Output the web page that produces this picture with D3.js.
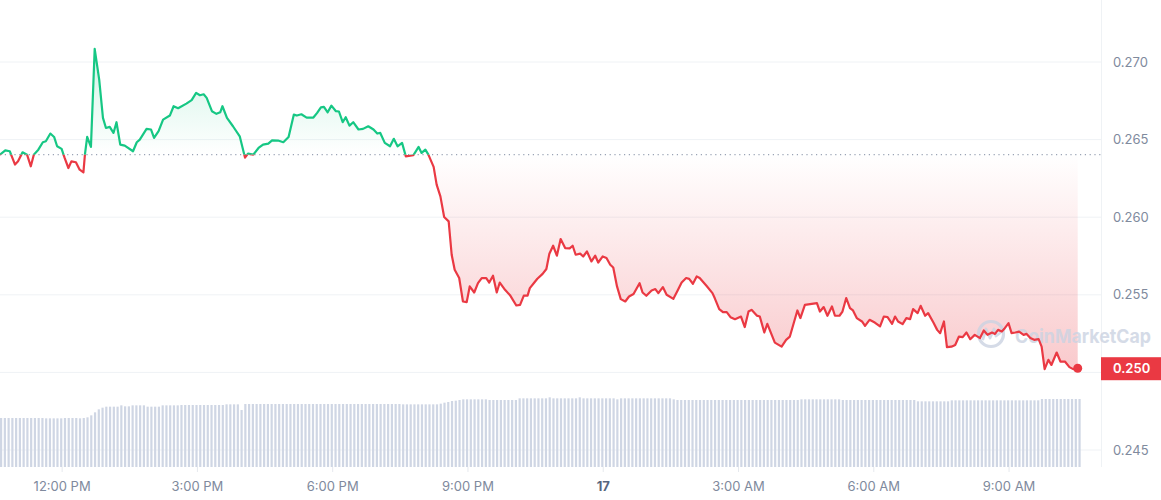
<!DOCTYPE html>
<html>
<head>
<meta charset="utf-8">
<script src="https://cdn.jsdelivr.net/npm/d3@7"></script>
<style>
  html, body { margin: 0; padding: 0; background: #fff; }
  svg { display: block; font-family: Inter, "Noto Sans", sans-serif; }
</style>
</head>
<body>
<svg id="chart" width="1161" height="500"></svg>
<script>
// ---------------- data ----------------
const startTime = new Date(2023, 9, 16, 10, 38);
const endTime = new Date(2023, 9, 17, 11, 3);
const priceMinutes = [
  0,7,13,20,24,30,36,41,45,51,
  57,61,67,72,76,82,86,91,95,101,
  106,111,113,116,121,126,132,137,141,146,
  151,155,160,166,177,182,186,195,201,205,
  211,217,226,231,237,248,255,261,266,271,
  275,282,288,293,296,302,310,319,326,330,
  337,344,350,357,362,370,377,384,391,395,
  401,408,417,422,427,431,436,441,447,451,
  456,460,465,470,477,483,490,497,502,506,
  512,519,524,529,535,540,550,557,561,566,
  570,577,581,586,591,597,601,605,611,616,
  621,625,631,636,641,647,651,656,661,665,
  672,679,687,692,697,702,705,711,715,722,
  727,731,736,741,746,752,758,762,766,772,
  776,781,787,792,796,802,807,812,816,821,
  826,832,837,843,851,855,860,867,872,876,
  882,887,896,901,907,913,917,922,927,931,
  940,948,951,957,962,967,972,978,986,991,
  996,1000,1007,1011,1017,1021,1031,1040,1046,1051,
  1061,1065,1071,1087,1091,1096,1101,1107,1111,1117,
  1121,1126,1131,1135,1140,1147,1151,1157,1164,1171,
  1176,1181,1187,1191,1195,1201,1206,1211,1215,1221,
  1225,1231,1235,1242,1247,1251,1256,1260,1266,1271,
  1276,1281,1286,1291,1297,1304,1309,1314,1320,1324,
  1328,1333,1337,1342,1346,1351,1356,1362,1366,1371,
  1376,1382,1386,1390,1395,1399,1406,1411,1417,1423,
  1428,1434
];
const prices = [
  0.26403,0.26431,0.26425,0.26339,0.2636,0.26418,0.26403,0.26328,0.26403,0.26435,
  0.26483,0.26489,0.26539,0.26517,0.26457,0.2644,0.26382,0.26317,0.2636,0.26354,
  0.26306,0.26289,0.26403,0.26517,0.26453,0.27085,0.26887,0.2664,0.26575,0.26582,
  0.26543,0.26612,0.26468,0.26461,0.26425,0.26483,0.265,0.26569,0.26565,0.26511,
  0.26554,0.26629,0.26655,0.26715,0.26702,0.26732,0.26754,0.26801,0.26786,0.26792,
  0.26769,0.26683,0.26666,0.26676,0.26715,0.2664,0.26586,0.26521,0.26384,0.2641,
  0.26403,0.26446,0.26468,0.26474,0.26495,0.26494,0.26483,0.26517,0.26661,0.26655,
  0.26663,0.26642,0.26642,0.26672,0.26708,0.26711,0.26676,0.26719,0.26683,0.26681,
  0.26612,0.26644,0.2659,0.26612,0.26565,0.26569,0.26586,0.26565,0.26539,0.26543,
  0.26479,0.26457,0.26505,0.26457,0.26479,0.26392,0.26399,0.26453,0.26414,0.26435,
  0.26403,0.26324,0.2621,0.26134,0.26001,0.25973,0.25758,0.25661,0.25608,0.25457,
  0.25453,0.25554,0.25515,0.25575,0.25608,0.25608,0.25579,0.25623,0.25515,0.25579,
  0.25532,0.25495,0.25431,0.25435,0.25495,0.25495,0.25543,0.25579,0.25603,0.25635,
  0.25666,0.25765,0.25816,0.25752,0.25859,0.25801,0.25799,0.25816,0.25758,0.25765,
  0.25747,0.25779,0.25715,0.25752,0.25708,0.25747,0.25737,0.25694,0.25676,0.25554,
  0.25472,0.25457,0.25489,0.25505,0.25575,0.25515,0.25494,0.25528,0.25537,0.25511,
  0.2555,0.255,0.25474,0.25521,0.25579,0.25608,0.25603,0.25571,0.25618,0.25608,
  0.25558,0.25511,0.25479,0.25408,0.25388,0.25388,0.25356,0.25343,0.2536,0.25292,
  0.25392,0.25403,0.25366,0.2536,0.25257,0.25313,0.25192,0.25166,0.2521,0.25231,
  0.25399,0.2535,0.25435,0.25446,0.25392,0.25421,0.25365,0.25425,0.25365,0.25365,
  0.25392,0.25479,0.25414,0.25399,0.2535,0.25328,0.253,0.25339,0.25321,0.25296,
  0.2536,0.25356,0.25313,0.2536,0.25328,0.25311,0.2535,0.25343,0.25408,0.25382,
  0.25429,0.25365,0.25382,0.25321,0.25274,0.25253,0.25328,0.25163,0.25166,0.25177,
  0.25231,0.25227,0.25257,0.25214,0.25242,0.25221,0.2527,0.25242,0.25257,0.25248,
  0.25274,0.25263,0.25285,0.25317,0.25253,0.25257,0.25263,0.25242,0.25248,0.25221,
  0.2521,0.25214,0.25166,0.25021,0.25081,0.25048,0.25128,0.2507,0.2507,0.25034,
  0.25021,0.25027
];
// rolling volume (millions), one bar every 5 minutes
const volumeIntervalMin = 5;
const volumes = [
  147,147,147,147,147,147,147,147,147,147,147,147,146,146,146,146,146,147,147,147,
  147,146,147,149,155,164,173,178,181,181,181,181,185,182,182,185,185,185,185,181,
  181,181,181,185,185,185,185,185,186,186,186,186,186,186,186,186,186,186,186,186,
  188,188,188,188,171,189,189,189,189,189,189,189,189,189,189,189,189,189,189,189,
  189,189,189,189,189,189,189,189,189,189,189,189,189,189,189,189,189,189,189,189,
  189,189,189,189,189,189,189,188,188,188,188,188,188,188,188,188,188,190,193,195,
  198,199,201,203,203,203,203,203,203,203,201,201,201,201,201,201,201,201,206,206,
  206,206,206,206,206,206,209,206,206,206,206,206,206,206,209,206,206,206,206,206,
  206,206,206,206,203,206,206,206,206,206,206,206,206,206,206,206,206,206,206,203,
  201,201,201,201,201,201,201,201,201,201,201,201,201,201,201,201,201,201,201,201,
  201,201,201,201,201,201,201,201,201,201,201,201,201,203,203,203,203,203,203,203,
  203,203,203,203,201,201,201,201,201,201,201,201,201,201,201,201,201,201,201,201,
  201,201,201,201,197,197,197,197,197,197,197,197,197,200,200,200,200,200,200,200,
  200,200,200,200,200,200,200,200,200,200,200,200,200,200,200,200,200,204,204,204,
  204,204,204,204,204,204,204,204
];
const yGridValues = [0.245, 0.250, 0.255, 0.260, 0.265, 0.270];
const yLabelValues = [0.245, 0.255, 0.260, 0.265, 0.270]; // 0.250 is shown by the price tag
const lastPriceLabel = "0.250";

// ---------------- setup ----------------
const W = 1161, H = 500;
const plotRight = 1101, plotBottom = 467;
const GREEN = "#16c784", RED = "#ea3943";

const svg = d3.select("#chart");
const addMin = m => new Date(startTime.getTime() + m * 60000);
const data = prices.map((p, i) => ({ t: addMin(priceMinutes[i]), p }));
const volData = volumes.map((v, i) => ({ t: addMin(i * volumeIntervalMin), v }));

const x = d3.scaleTime().domain([startTime, endTime]).range([0, plotRight]);
const y = d3.scaleLinear().domain([0.245, 0.270]).range([450, 62]);
const yVol = d3.scaleLinear().domain([0, 300]).range([plotBottom, plotBottom - 100]);

const baseline = prices[0];
const baseY = y(baseline);

const defs = svg.append("defs");
const gGreen = defs.append("linearGradient").attr("id", "gGreen")
  .attr("gradientUnits", "userSpaceOnUse").attr("x1", 0).attr("x2", 0)
  .attr("y1", y(d3.max(prices))).attr("y2", baseY);
gGreen.append("stop").attr("offset", 0).attr("stop-color", GREEN).attr("stop-opacity", 0.2);
gGreen.append("stop").attr("offset", 1).attr("stop-color", GREEN).attr("stop-opacity", 0.0);
const gRed = defs.append("linearGradient").attr("id", "gRed")
  .attr("gradientUnits", "userSpaceOnUse").attr("x1", 0).attr("x2", 0)
  .attr("y1", baseY).attr("y2", y(d3.min(prices)));
gRed.append("stop").attr("offset", 0).attr("stop-color", RED).attr("stop-opacity", 0.0);
gRed.append("stop").attr("offset", 1).attr("stop-color", RED).attr("stop-opacity", 0.27);

defs.append("clipPath").attr("id", "clipAbove").append("rect")
  .attr("x", -5).attr("y", 0).attr("width", plotRight + 5).attr("height", baseY);
defs.append("clipPath").attr("id", "clipBelow").append("rect")
  .attr("x", -5).attr("y", baseY).attr("width", plotRight + 5).attr("height", H - baseY);

// grid lines
svg.append("g").selectAll("line").data(yGridValues).join("line")
  .attr("x1", 0).attr("x2", plotRight)
  .attr("y1", d => y(d)).attr("y2", d => y(d))
  .attr("stroke", "#eff2f5").attr("stroke-width", 1);
svg.append("line").attr("x1", plotRight + 0.5).attr("x2", plotRight + 0.5)
  .attr("y1", 0).attr("y2", plotBottom).attr("stroke", "#eff2f5");

// areas
const area = d3.area().x(d => x(d.t)).y0(baseY).y1(d => y(d.p));
svg.append("path").datum(data).attr("d", area)
  .attr("fill", "url(#gGreen)").attr("clip-path", "url(#clipAbove)");
svg.append("path").datum(data).attr("d", area)
  .attr("fill", "url(#gRed)").attr("clip-path", "url(#clipBelow)");

// volume bars
svg.append("g").selectAll("rect").data(volData).join("rect")
  .attr("x", d => x(d.t)).attr("width", 2.2)
  .attr("y", d => yVol(d.v)).attr("height", d => plotBottom - yVol(d.v))
  .attr("fill", "#cfd6e4");

// baseline dotted
svg.append("line").attr("x1", 0).attr("x2", plotRight)
  .attr("y1", baseY).attr("y2", baseY)
  .attr("stroke", "#9aa3b5").attr("stroke-width", 1.2).attr("stroke-dasharray", "1.2 3.6");

// watermark
const wm = svg.append("g").attr("opacity", 0.8);
wm.append("circle").attr("cx", 991).attr("cy", 334).attr("r", 12.5)
  .attr("fill", "none").attr("stroke", "#cbd3e2").attr("stroke-width", 3.2);
wm.append("path").attr("d", "M983,339 L986,329 L990,338 L994,329 L996,336 L1000,333")
  .attr("fill", "none").attr("stroke", "#cbd3e2").attr("stroke-width", 2.8)
  .attr("stroke-linejoin", "round").attr("stroke-linecap", "round");
wm.append("text").attr("x", 1015).attr("y", 343)
  .attr("font-size", 19).attr("font-weight", 700).attr("fill", "#cbd3e2")
  .attr("textLength", 136).attr("lengthAdjust", "spacingAndGlyphs")
  .text("CoinMarketCap");

// price line
const line = d3.line().x(d => x(d.t)).y(d => y(d.p));
svg.append("path").datum(data).attr("d", line).attr("fill", "none")
  .attr("stroke", GREEN).attr("stroke-width", 2.2).attr("stroke-linejoin", "round")
  .attr("clip-path", "url(#clipAbove)");
svg.append("path").datum(data).attr("d", line).attr("fill", "none")
  .attr("stroke", RED).attr("stroke-width", 2.2).attr("stroke-linejoin", "round")
  .attr("clip-path", "url(#clipBelow)");

const last = data[data.length - 1];
svg.append("circle").attr("cx", x(last.t)).attr("cy", y(last.p)).attr("r", 4.5).attr("fill", RED);

// x axis
const fmtTick = d => (d.getHours() === 0 ? d3.timeFormat("%-d")(d) : d3.timeFormat("%-I:%M %p")(d));
const xAxis = d3.axisBottom(x)
  .tickValues(d3.timeHour.every(3).range(startTime, endTime))
  .tickFormat(fmtTick).tickSize(5).tickPadding(10);
const gx = svg.append("g").attr("transform", `translate(0,${plotBottom})`).call(xAxis);
gx.select(".domain").remove();
gx.selectAll(".tick line").attr("stroke", "#e6e9ee");
gx.selectAll(".tick text")
  .attr("font-family", "Inter, 'Noto Sans', sans-serif").attr("font-size", 13)
  .attr("font-weight", d => d.getHours() === 0 ? 700 : 400)
  .attr("fill", d => d.getHours() === 0 ? "#58667e" : "#808a9d");

// y axis
const yAxis = d3.axisRight(y).tickValues(yLabelValues).tickFormat(d3.format(".3f"))
  .tickSize(0).tickPadding(12);
const gy = svg.append("g").attr("transform", `translate(${plotRight},0)`).call(yAxis);
gy.select(".domain").remove();
gy.selectAll(".tick text")
  .attr("font-family", "Inter, 'Noto Sans', sans-serif").attr("font-size", 13)
  .attr("fill", "#808a9d");

// last price pill
const ly = y(last.p);
svg.append("rect").attr("x", plotRight).attr("y", ly - 11).attr("width", W - plotRight).attr("height", 23)
  .attr("fill", RED);
svg.append("text").attr("x", plotRight + 12).attr("y", ly + 0.5).attr("dy", "0.35em")
  .attr("font-size", 13).attr("font-weight", 600).attr("fill", "#fff")
  .text(lastPriceLabel);
</script>
</body>
</html>
